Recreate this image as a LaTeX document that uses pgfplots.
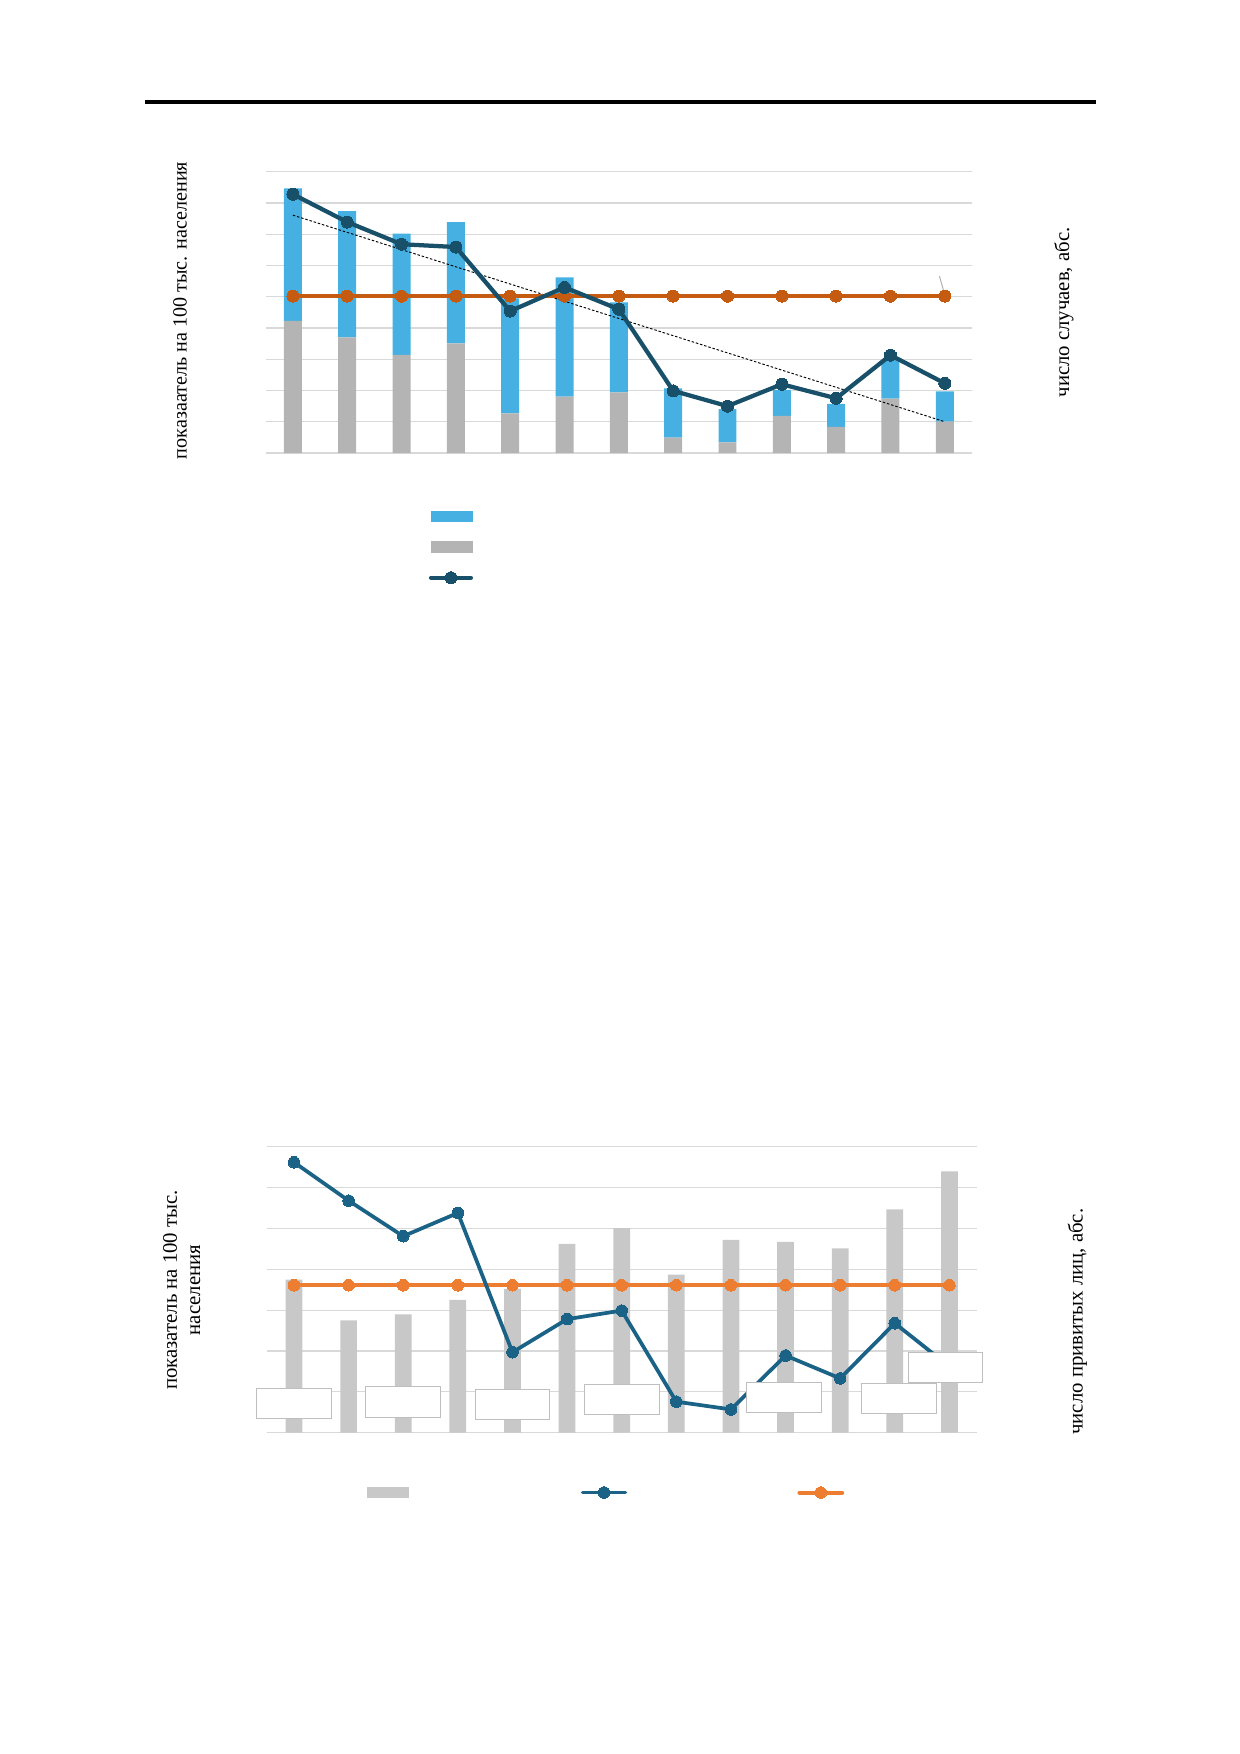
\documentclass[border=0pt]{standalone}
\usepackage{pgfplots}
\pgfplotsset{compat=1.18}
\usepackage{fontspec}
\setmainfont{Liberation Serif}
\newcommand\pxu{0.1693548mm}
\definecolor{cBlue}{HTML}{45B0E1}
\definecolor{cGrayA}{HTML}{B4B4B4}
\definecolor{cDark}{HTML}{184F69}
\definecolor{cOrangeA}{HTML}{C55A11}
\definecolor{cGrayB}{HTML}{C8C8C8}
\definecolor{cBlueB}{HTML}{1B6287}
\definecolor{cOrangeB}{HTML}{ED7D31}
\definecolor{cGrid}{HTML}{D9D9D9}
\definecolor{cBox}{HTML}{BFBFBF}
\pgfplotsset{
  base/.style={scale only axis, enlargelimits=false, xmin=-0.5, xmax=12.5,
    axis line style={draw=none}, xtick=\empty, yticklabels={},
    yticklabel style={text opacity=0},
    major tick length=0pt, tick style={draw=none},
    major grid style={cGrid, line width=0.6pt}},
  linelegend/.style={legend image code/.code={\draw[mark repeat=2,mark phase=2,##1] plot coordinates {(0pt,0pt) (9.6pt,0pt) (19.2pt,0pt)};}},
  linelegendB/.style={legend image code/.code={\draw[mark repeat=2,mark phase=2,##1] plot coordinates {(0pt,0pt) (10.3pt,0pt) (20.6pt,0pt)};}}
}
\tikzset{lbox/.style={draw=cBox, fill=white, line width=0.5pt, minimum width=36pt, minimum height=14.6pt, inner sep=0pt}}
\begin{document}
\begin{tikzpicture}
\path[use as bounding box] (0,0) rectangle ({1240*\pxu},{-1754*\pxu});
\draw[line width=1.45pt] ({145*\pxu},{-102*\pxu}) -- ({1095.7*\pxu},{-102*\pxu});

% ---------- Chart 1 ----------
\begin{axis}[base, at={({265.7*\pxu},{-453*\pxu})}, anchor=south west,
  width=119.61mm, height=47.64mm, ymin=0, ymax=9, ytick={0,...,9}, ymajorgrids,
  ybar stacked, bar width=0.331]
\addplot[fill=cGrayA, draw=none] coordinates {(0,4.23) (1,3.70) (2,3.14) (3,3.51) (4,1.27) (5,1.80) (6,1.94) (7,0.49) (8,0.34) (9,1.19) (10,0.84) (11,1.74) (12,1.00)};
\addplot[fill=cBlue, draw=none] coordinates {(0,4.24) (1,4.04) (2,3.88) (3,3.88) (4,3.68) (5,3.82) (6,2.88) (7,1.58) (8,1.06) (9,0.83) (10,0.73) (11,1.23) (12,0.97)};
\end{axis}
\begin{axis}[base, hide axis, at={({265.7*\pxu},{-453*\pxu})}, anchor=south west,
  width=119.61mm, height=47.64mm, ymin=0, ymax=9, clip=false,
  legend style={at={(axis description cs:0.2305,-0.205)}, anchor=north west, draw=none, fill=none,
    inner sep=0pt, row sep=9.2pt, nodes={inner sep=0pt}}]
\addlegendimage{legend image code/.code={\fill[cBlue] (0pt,-2.5pt) rectangle (19.8pt,2.5pt);}}
\addlegendentry{}
\addlegendimage{legend image code/.code={\fill[cGrayA] (0pt,-2.5pt) rectangle (19.8pt,2.5pt);}}
\addlegendentry{}
\addplot[forget plot, black, line width=0.45pt, dash pattern=on 1.2pt off 0.9pt] coordinates {(0,7.61) (12,1.00)};
\addplot[forget plot, cOrangeA, line width=2.1pt, mark=*, mark size=2.9pt, mark options={fill=cOrangeA, draw=cOrangeA, line width=0pt}] coordinates {(0,5.02) (1,5.02) (2,5.02) (3,5.02) (4,5.02) (5,5.02) (6,5.02) (7,5.02) (8,5.02) (9,5.02) (10,5.02) (11,5.02) (12,5.02)};
\addplot[linelegend, cDark, line width=2.05pt, line cap=round, mark=*, mark size=2.9pt, mark options={fill=cDark, draw=cDark, line width=0pt}] coordinates {(0,8.28) (1,7.39) (2,6.68) (3,6.59) (4,4.54) (5,5.30) (6,4.60) (7,1.99) (8,1.50) (9,2.20) (10,1.75) (11,3.13) (12,2.23)};
\addlegendentry{}
\draw[gray!60, line width=0.5pt] (axis cs:11.90,5.66) -- (axis cs:11.99,5.12);
\end{axis}
\node[rotate=90, font=\fontsize{9.7}{12}\selectfont] at ({180*\pxu},{-310.5*\pxu}) {показаатель на 100 тыс. населения};
\node[rotate=90, font=\fontsize{10}{12}\selectfont] at ({1064*\pxu},{-312.5*\pxu}) {число случаев, абс.};

% ---------- Chart 2 ----------
\begin{axis}[base, at={({266.7*\pxu},{-1432.7*\pxu})}, anchor=south west,
  width=120.24mm, height=48.43mm, ymin=0, ymax=7, ytick={0,...,7}, ymajorgrids,
  ybar, bar width=0.306]
\addplot[fill=cGrayB, draw=none] coordinates {(0,3.75) (1,2.75) (2,2.90) (3,3.25) (4,3.52) (5,4.62) (6,5.01) (7,3.87) (8,4.72) (9,4.67) (10,4.51) (11,5.47) (12,6.40)};
\end{axis}
\begin{axis}[base, hide axis, at={({266.7*\pxu},{-1432.7*\pxu})}, anchor=south west,
  width=120.24mm, height=48.43mm, ymin=0, ymax=7, clip=false,
  legend columns=3,
  legend style={at={(axis description cs:0.1413,-0.1874)}, anchor=north west, draw=none, fill=none,
    inner sep=0pt, nodes={inner sep=0pt}, column sep=0pt,
    /tikz/column 2/.style={column sep=82pt}, /tikz/column 4/.style={column sep=81pt}}]
\addlegendimage{legend image code/.code={\fill[cGrayB] (0pt,-2.5pt) rectangle (19.4pt,2.5pt);}}
\addlegendentry{}
\addplot[forget plot, cOrangeB, line width=1.9pt, mark=*, mark size=2.8pt, mark options={fill=cOrangeB, draw=cOrangeB, line width=0pt}] coordinates {(0,3.61) (1,3.61) (2,3.61) (3,3.61) (4,3.61) (5,3.61) (6,3.61) (7,3.61) (8,3.61) (9,3.61) (10,3.61) (11,3.61) (12,3.61)};
\addplot[linelegendB, cBlueB, line width=1.8pt, line cap=round, mark=*, mark size=2.8pt, mark options={fill=cBlueB, draw=cBlueB, line width=0pt}] coordinates {(0,6.62) (1,5.68) (2,4.81) (3,5.38) (4,1.97) (5,2.78) (6,2.99) (7,0.76) (8,0.57) (9,1.89) (10,1.33) (11,2.68) (12,1.62)};
\addlegendentry{}
\addlegendimage{linelegendB, cOrangeB, line width=1.9pt, line cap=round, mark=*, mark size=2.8pt, mark options={fill=cOrangeB, draw=cOrangeB, line width=0pt}}
\addlegendentry{}
\end{axis}
\begin{axis}[base, hide axis, at={({266.7*\pxu},{-1432.7*\pxu})}, anchor=south west,
  width=120.24mm, height=48.43mm, ymin=0, ymax=7, clip=false]
\node[lbox] at (axis cs:0,0.71) {};
\node[lbox] at (axis cs:2,0.75) {};
\node[lbox] at (axis cs:4,0.69) {};
\node[lbox] at (axis cs:6,0.82) {};
\node[lbox] at (axis cs:8.97,0.86) {};
\node[lbox] at (axis cs:11.08,0.84) {};
\node[lbox] at (axis cs:11.93,1.59) {};
\end{axis}
\node[rotate=90, align=center, font=\fontsize{10}{11.2}\selectfont] at ({181.7*\pxu},{-1290*\pxu}) {показатель на 100 тыс.\\населения};
\node[rotate=90, font=\fontsize{10}{12}\selectfont] at ({1077.3*\pxu},{-1321.7*\pxu}) {число привитых лиц, абс.};
\end{tikzpicture}
\end{document}
